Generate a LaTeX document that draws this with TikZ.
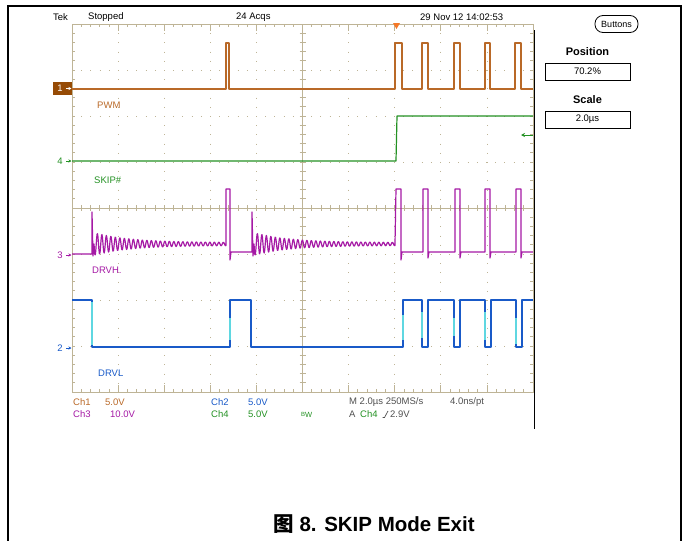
\documentclass[tikz,border=0pt]{standalone}
\usepackage{fontspec}
\setmainfont{Liberation Sans}
\newfontfamily\cjk{Noto Sans CJK SC}
\usetikzlibrary{arrows.meta,positioning,calc}

\definecolor{gratcol}{RGB}{190,180,150}
\definecolor{pwmcol}{RGB}{185,105,40}
\definecolor{pwmdark}{RGB}{150,75,5}
\definecolor{skipcol}{RGB}{35,145,35}
\definecolor{drvhcol}{RGB}{165,25,165}
\definecolor{drvlcol}{RGB}{25,90,200}
\definecolor{edgecol}{RGB}{95,215,225}
\definecolor{infocol}{RGB}{80,80,80}
\definecolor{trigcol}{RGB}{245,120,40}

\begin{document}
\begin{tikzpicture}[x=1pt,y=-1pt,
    scopetxt/.style={font=\fontsize{9.5}{10}\selectfont, inner sep=0pt, anchor=west},
    gridline/.style={gratcol, line width=0.8pt, dash pattern=on 0.8pt off 8.4pt},
    gratline/.style={gratcol, line width=0.7pt},
    trace/.style={line width=1.2pt, line join=round},
    readout/.style={draw, line width=0.8pt, minimum width=85pt, minimum height=17pt, inner sep=0pt, font=\fontsize{9.5}{10}\selectfont}]
    \useasboundingbox (0,0) rectangle (683,541);

    % Outer frame
    \draw[line width=1.2pt] (8,541) -- (8,6) -- (681,6) -- (681,541);

    % Header line
    \node[scopetxt] (tek) at (53,17) {Tek};
    \node[scopetxt] (stopped) at (88,17) {Stopped};
    \node[scopetxt] (acqs) at (236,17) {24 Acqs};
    \node[scopetxt] (date) at (420,17) {29 Nov 12 14:02:53};

    % Graticule: dotted grid
    \foreach \gx in {118.1,164.2,210.3,256.4,348.6,394.7,440.8,486.9}
        \draw[gridline] (\gx,24) -- (\gx,392);
    \foreach \gy in {70,116,162,254,300,346}
        \draw[gridline] (72,\gy) -- (533,\gy);

    % Graticule: border and centre lines with ticks
    \draw[gratline] (72,24) rectangle (533,392);
    \draw[gratline] (302.5,24) -- (302.5,392);
    \draw[gratline] (72,208) -- (533,208);
    \foreach \i in {0,...,50} {
        \draw[gratline] ({72+\i*9.22},24) -- ++(0,3);
        \draw[gratline] ({72+\i*9.22},392) -- ++(0,-3);
        \draw[gratline] ({72+\i*9.22},205) -- ++(0,6);
    }
    \foreach \j in {0,...,40} {
        \draw[gratline] (72,{24+\j*9.2}) -- ++(3,0);
        \draw[gratline] (533,{24+\j*9.2}) -- ++(-3,0);
        \draw[gratline] (299.5,{24+\j*9.2}) -- ++(6,0);
    }
    \foreach \i in {0,...,10} {
        \draw[gratline] ({72+\i*46.1},24) -- ++(0,7);
        \draw[gratline] ({72+\i*46.1},392) -- ++(0,-7);
    }
    \draw[line width=1pt] (534,30) -- (534,429);

    % Trigger markers
    \fill[trigcol] (393,23) -- (400,23) -- (396.5,29) -- cycle;
    \draw[skipcol, line width=1pt, -{Stealth[length=4pt,width=4pt]}] (533,135) -- (521,135);

    % Ch1 PWM
    \draw[trace, pwmcol] (72,89) -- (226,89) -- (226,43) -- (229,43) -- (229,89)
        -- (395,89) -- (395,43) -- (402,43) -- (402,89)
        -- (422,89) -- (422,43) -- (428,43) -- (428,89)
        -- (454,89) -- (454,43) -- (460,43) -- (460,89)
        -- (485,89) -- (485,43) -- (490,43) -- (490,89)
        -- (515,89) -- (515,43) -- (521,43) -- (521,89) -- (533,89);

    % Ch4 SKIP#
    \draw[trace, skipcol] (72,161) -- (396,161) -- (397,116) -- (533,116);

    % Ch3 DRVH
    \draw[trace, drvhcol] (72,254) -- (92,254) -- (92,212) -- (93,256)
        -- plot[domain=94:226, samples=300] (\x, {244+(1.5+10*exp(-(\x-94)/35))*sin(80*(\x-94))})
        -- (226,244) -- (226,189) -- (230,189) -- (230,260) -- (231,252) -- (252,252) -- (252,212) -- (253,256)
        -- plot[domain=254:395, samples=320] (\x, {244+(1.5+10*exp(-(\x-254)/35))*sin(80*(\x-254))})
        -- (395,244) -- (396,189) -- (401,189) -- (401,260) -- (402,252)
        -- (423,252) -- (423,189) -- (428,189) -- (428,258) -- (429,252)
        -- (455,252) -- (455,189) -- (460,189) -- (460,258) -- (461,252)
        -- (485,252) -- (485,189) -- (490,189) -- (490,258) -- (491,252)
        -- (516,252) -- (516,189) -- (521,189) -- (521,258) -- (522,252) -- (533,252);

    % Ch2 DRVL
    \draw[trace, drvlcol] (72,300) -- (92,300) -- (92,347) -- (230,347) -- (230,300) -- (251,300) -- (251,347)
        -- (403,347) -- (403,300) -- (422,300) -- (422,347) -- (428,347) -- (428,300)
        -- (454,300) -- (454,347) -- (460,347) -- (460,300) -- (485,300) -- (485,347)
        -- (491,347) -- (491,300) -- (516,300) -- (516,347) -- (522,347) -- (522,300) -- (533,300);
    \foreach \ex/\ea/\eb in {92/302/345, 230/318/340, 403/315/340, 422/312/338, 454/318/336, 485/312/340, 516/318/344}
        \draw[edgecol, line width=1.2pt] (\ex,\ea) -- (\ex,\eb);

    % Channel ground markers
    \node[fill=pwmdark, text=white, minimum width=19pt, minimum height=13pt, inner sep=0pt, font=\fontsize{9.5}{10}\selectfont] (mark1) at (62.5,88.5) {1\,\,\,};
    \draw[white, line width=0.8pt, -{Stealth[length=3pt,width=3pt]}] (66,88.5) -- (71.5,88.5);
    \node[skipcol, font=\fontsize{9.5}{10}\selectfont, inner sep=0pt] (mark4) at (60,161) {4};
    \draw[skipcol, line width=0.8pt, -{Stealth[length=3pt,width=3pt]}] (66,161) -- (71.5,161);
    \node[drvhcol, font=\fontsize{9.5}{10}\selectfont, inner sep=0pt] (mark3) at (60,255) {3};
    \draw[drvhcol, line width=0.8pt, -{Stealth[length=3pt,width=3pt]}] (66,255) -- (71.5,255);
    \node[drvlcol, font=\fontsize{9.5}{10}\selectfont, inner sep=0pt] (mark2) at (60,348) {2};
    \draw[drvlcol, line width=0.8pt, -{Stealth[length=3pt,width=3pt]}] (66,348) -- (71.5,348);

    % Trace names
    \node[scopetxt, pwmcol] (pwm) at (97,105) {PWM};
    \node[scopetxt, skipcol] (skip) at (94,180) {SKIP\#};
    \node[scopetxt, drvhcol] (drvh) at (92,270) {DRVH.};
    \node[scopetxt, drvlcol] (drvl) at (98,373) {DRVL};

    % Bottom readout
    \node[scopetxt, pwmcol] (ch1) at (73,402) {Ch1};
    \node[scopetxt, pwmcol] (ch1v) at (105,402) {5.0V};
    \node[scopetxt, drvhcol] (ch3) at (73,414) {Ch3};
    \node[scopetxt, drvhcol] (ch3v) at (110,414) {10.0V};
    \node[scopetxt, drvlcol] (ch2) at (211,402) {Ch2};
    \node[scopetxt, drvlcol] (ch2v) at (248,402) {5.0V};
    \node[scopetxt, skipcol] (ch4) at (211,414) {Ch4};
    \node[scopetxt, skipcol] (ch4v) at (248,414) {5.0V};
    \node[scopetxt, skipcol] (bw) at (301,415) {\raisebox{1.5pt}{\fontsize{6}{6}\selectfont B}{\fontsize{7.5}{8}\selectfont W}};
    \node[scopetxt, infocol] (horiz) at (349,402) {M 2.0µs 250MS/s};
    \node[scopetxt, infocol] (rate) at (450,402) {4.0ns/pt};
    \node[scopetxt, infocol] (trigA) at (349,414) {A};
    \node[scopetxt, skipcol] (trigch) at (360,414) {Ch4};
    \draw[infocol, line width=0.7pt] (382.5,417.5) -- (384.5,417.5) -- (388,411);
    \node[scopetxt, infocol] (triglvl) at (390,414) {2.9V};

    % Side menu
    \node[draw, line width=0.8pt, rounded corners=8pt, minimum width=43pt, minimum height=17pt, inner sep=0pt, font=\fontsize{9}{9}\selectfont] (buttons) at (616.5,24) {Buttons};
    \node[font=\bfseries\fontsize{11}{11}\selectfont] (poslbl) at (587.5,52) {Position};
    \node[readout] (posval) at (587.5,71.5) {70.2\%};
    \node[font=\bfseries\fontsize{11}{11}\selectfont] (scalelbl) at (587.5,100) {Scale};
    \node[readout] (scaleval) at (587.5,119.5) {2.0µs};

    % Caption
    \node[font=\bfseries\fontsize{20.5}{22}\selectfont] (caption) at (374,524) {{\cjk\bfseries 图} 8. SKIP Mode Exit};
\end{tikzpicture}
\end{document}
